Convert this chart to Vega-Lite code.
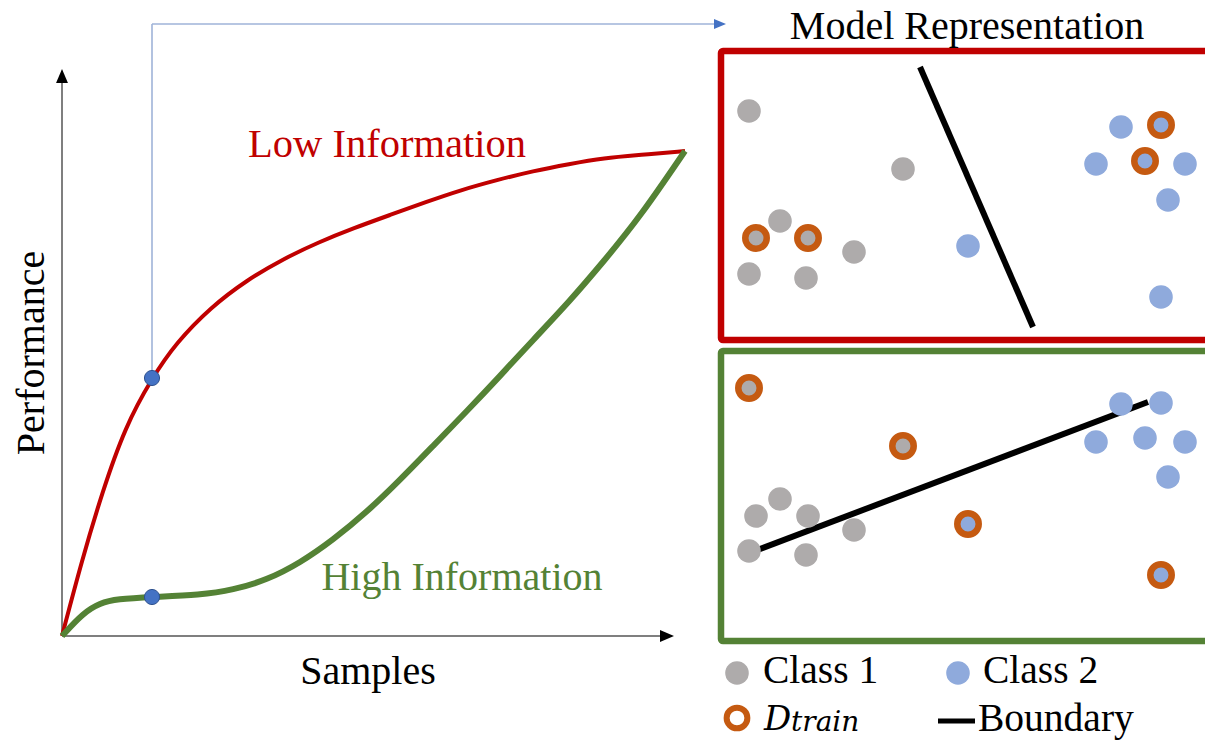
{
  "$schema": "https://vega.github.io/schema/vega-lite/v6.json",
  "width": 1205,
  "height": 748,
  "autosize": {"type": "fit", "contains": "padding"},
  "padding": 0,
  "background": "white",
  "config": {"view": {"stroke": null}},
  "datasets": {
    "curves": [
      {"series": "Low", "x": 62, "y": 636}, {"series": "Low", "x": 82, "y": 560}, {"series": "Low", "x": 102, "y": 493},
      {"series": "Low", "x": 125, "y": 427}, {"series": "Low", "x": 152, "y": 378}, {"series": "Low", "x": 176, "y": 343},
      {"series": "Low", "x": 211, "y": 307}, {"series": "Low", "x": 247, "y": 280}, {"series": "Low", "x": 283, "y": 259},
      {"series": "Low", "x": 319, "y": 242}, {"series": "Low", "x": 354, "y": 228}, {"series": "Low", "x": 390, "y": 215},
      {"series": "Low", "x": 426, "y": 202}, {"series": "Low", "x": 461, "y": 190}, {"series": "Low", "x": 497, "y": 180},
      {"series": "Low", "x": 533, "y": 171}, {"series": "Low", "x": 569, "y": 164}, {"series": "Low", "x": 604, "y": 158},
      {"series": "Low", "x": 640, "y": 155}, {"series": "Low", "x": 685, "y": 151},
      {"series": "High", "x": 62, "y": 636}, {"series": "High", "x": 83, "y": 613}, {"series": "High", "x": 100, "y": 603},
      {"series": "High", "x": 117, "y": 599}, {"series": "High", "x": 152, "y": 597}, {"series": "High", "x": 200, "y": 595},
      {"series": "High", "x": 233, "y": 590}, {"series": "High", "x": 267, "y": 580}, {"series": "High", "x": 300, "y": 563},
      {"series": "High", "x": 333, "y": 540}, {"series": "High", "x": 367, "y": 512}, {"series": "High", "x": 400, "y": 480},
      {"series": "High", "x": 433, "y": 446}, {"series": "High", "x": 467, "y": 411}, {"series": "High", "x": 500, "y": 376},
      {"series": "High", "x": 533, "y": 340}, {"series": "High", "x": 569, "y": 302}, {"series": "High", "x": 604, "y": 261},
      {"series": "High", "x": 640, "y": 217}, {"series": "High", "x": 685, "y": 151}
    ],
    "points": [
      {"panel": "Low", "cls": "Class 1", "train": false, "x": 749, "y": 111},
      {"panel": "Low", "cls": "Class 1", "train": false, "x": 903, "y": 169},
      {"panel": "Low", "cls": "Class 1", "train": false, "x": 780, "y": 221},
      {"panel": "Low", "cls": "Class 1", "train": true, "x": 756, "y": 238},
      {"panel": "Low", "cls": "Class 1", "train": true, "x": 808, "y": 238},
      {"panel": "Low", "cls": "Class 1", "train": false, "x": 854, "y": 252},
      {"panel": "Low", "cls": "Class 1", "train": false, "x": 749, "y": 274},
      {"panel": "Low", "cls": "Class 1", "train": false, "x": 806, "y": 278},
      {"panel": "Low", "cls": "Class 2", "train": false, "x": 1121, "y": 127},
      {"panel": "Low", "cls": "Class 2", "train": true, "x": 1161, "y": 125},
      {"panel": "Low", "cls": "Class 2", "train": false, "x": 1096, "y": 164},
      {"panel": "Low", "cls": "Class 2", "train": true, "x": 1145, "y": 161},
      {"panel": "Low", "cls": "Class 2", "train": false, "x": 1185, "y": 164},
      {"panel": "Low", "cls": "Class 2", "train": false, "x": 1168, "y": 200},
      {"panel": "Low", "cls": "Class 2", "train": false, "x": 968, "y": 246},
      {"panel": "Low", "cls": "Class 2", "train": false, "x": 1161, "y": 297},
      {"panel": "High", "cls": "Class 1", "train": true, "x": 749, "y": 388},
      {"panel": "High", "cls": "Class 1", "train": true, "x": 903, "y": 446},
      {"panel": "High", "cls": "Class 1", "train": false, "x": 780, "y": 499},
      {"panel": "High", "cls": "Class 1", "train": false, "x": 756, "y": 516},
      {"panel": "High", "cls": "Class 1", "train": false, "x": 808, "y": 516},
      {"panel": "High", "cls": "Class 1", "train": false, "x": 854, "y": 530},
      {"panel": "High", "cls": "Class 1", "train": false, "x": 749, "y": 551},
      {"panel": "High", "cls": "Class 1", "train": false, "x": 806, "y": 555},
      {"panel": "High", "cls": "Class 2", "train": false, "x": 1121, "y": 404},
      {"panel": "High", "cls": "Class 2", "train": false, "x": 1161, "y": 403},
      {"panel": "High", "cls": "Class 2", "train": false, "x": 1096, "y": 442},
      {"panel": "High", "cls": "Class 2", "train": false, "x": 1145, "y": 438},
      {"panel": "High", "cls": "Class 2", "train": false, "x": 1185, "y": 442},
      {"panel": "High", "cls": "Class 2", "train": false, "x": 1168, "y": 477},
      {"panel": "High", "cls": "Class 2", "train": true, "x": 968, "y": 524},
      {"panel": "High", "cls": "Class 2", "train": true, "x": 1161, "y": 575}
    ]
  },
  "encoding": {
    "x": {"field": "x", "type": "quantitative", "scale": {"domain": [0, 1205], "nice": false, "zero": false}, "axis": null},
    "y": {"field": "y", "type": "quantitative", "scale": {"domain": [0, 748], "nice": false, "zero": false, "reverse": true}, "axis": null}
  },
  "layer": [
    {
      "data": {"values": [
        {"box": "Low", "x": 721, "y": 51, "x2": 1215, "y2": 340},
        {"box": "High", "x": 721, "y": 351, "x2": 1215, "y2": 641}
      ]},
      "mark": {"type": "rect", "fill": "white", "strokeWidth": 6.5, "clip": true, "cornerRadius": 2},
      "encoding": {
        "x2": {"field": "x2"},
        "y2": {"field": "y2"},
        "stroke": {"field": "box", "type": "nominal", "scale": {"domain": ["Low", "High"], "range": ["#C00000", "#548235"]}, "legend": null}
      }
    },
    {
      "data": {"values": [
        {"x": 62, "y": 636, "x2": 62, "y2": 80},
        {"x": 62, "y": 636, "x2": 664, "y2": 636}
      ]},
      "mark": {"type": "rule", "stroke": "#555555", "strokeWidth": 1.5},
      "encoding": {"x2": {"field": "x2"}, "y2": {"field": "y2"}}
    },
    {
      "data": {"values": [
        {"x": 152, "y": 378, "x2": 152, "y2": 24},
        {"x": 152, "y": 24, "x2": 716, "y2": 24}
      ]},
      "mark": {"type": "rule", "stroke": "#9FB3D8", "strokeWidth": 1.6},
      "encoding": {"x2": {"field": "x2"}, "y2": {"field": "y2"}}
    },
    {
      "data": {"values": [
        {"dir": "up", "x": 62, "y": 76},
        {"dir": "right", "x": 667, "y": 636}
      ]},
      "mark": {"type": "point", "filled": true, "fill": "black", "opacity": 1, "size": 196},
      "encoding": {
        "shape": {"field": "dir", "type": "nominal", "scale": {"domain": ["up", "right"], "range": ["M0,-1L0.85,1L-0.85,1Z", "M1,0L-1,0.85L-1,-0.85Z"]}, "legend": null}
      }
    },
    {
      "data": {"values": [{"dir": "right", "x": 720, "y": 24}]},
      "mark": {"type": "point", "filled": true, "fill": "#4472C4", "opacity": 1, "size": 144, "shape": "M1,0L-1,0.85L-1,-0.85Z"},
      "encoding": {}
    },
    {
      "data": {"name": "curves"},
      "transform": [{"filter": "datum.series === 'Low'"}],
      "mark": {"type": "line", "interpolate": "basis", "stroke": "#C00000", "strokeWidth": 4},
      "encoding": {}
    },
    {
      "data": {"name": "curves"},
      "transform": [{"filter": "datum.series === 'High'"}],
      "mark": {"type": "line", "interpolate": "basis", "stroke": "#548235", "strokeWidth": 6},
      "encoding": {}
    },
    {
      "data": {"values": [{"x": 152, "y": 378}, {"x": 152, "y": 597}]},
      "mark": {"type": "point", "shape": "circle", "filled": true, "fill": "#4472C4", "stroke": "#2F528F", "strokeWidth": 1, "opacity": 1, "size": 230},
      "encoding": {}
    },
    {
      "data": {"values": [
        {"x": 920, "y": 67, "x2": 1033, "y2": 327},
        {"x": 752, "y": 552, "x2": 1148, "y2": 402}
      ]},
      "mark": {"type": "rule", "stroke": "black", "strokeWidth": 6},
      "encoding": {"x2": {"field": "x2"}, "y2": {"field": "y2"}}
    },
    {
      "data": {"name": "points"},
      "transform": [{"filter": "!datum.train"}],
      "mark": {"type": "point", "shape": "circle", "filled": true, "opacity": 1, "size": 556},
      "encoding": {
        "fill": {"field": "cls", "type": "nominal", "scale": {"domain": ["Class 1", "Class 2"], "range": ["#AEABAB", "#8FAADC"]}, "legend": null}
      }
    },
    {
      "data": {"name": "points"},
      "transform": [{"filter": "datum.train"}],
      "mark": {"type": "point", "shape": "circle", "filled": true, "opacity": 1, "stroke": "#C55A11", "strokeWidth": 6.5, "strokeOpacity": 1, "size": 460},
      "encoding": {
        "fill": {"field": "cls", "type": "nominal", "scale": {"domain": ["Class 1", "Class 2"], "range": ["#AEABAB", "#8FAADC"]}, "legend": null}
      }
    },
    {
      "data": {"values": [{"cls": "Class 1", "x": 737, "y": 673}, {"cls": "Class 2", "x": 958, "y": 673}]},
      "mark": {"type": "point", "shape": "circle", "filled": true, "opacity": 1, "size": 556},
      "encoding": {
        "fill": {"field": "cls", "type": "nominal", "scale": {"domain": ["Class 1", "Class 2"], "range": ["#AEABAB", "#8FAADC"]}, "legend": null}
      }
    },
    {
      "data": {"values": [{"x": 737, "y": 718}]},
      "mark": {"type": "point", "shape": "circle", "filled": true, "fill": "white", "opacity": 1, "stroke": "#C55A11", "strokeWidth": 6, "strokeOpacity": 1, "size": 430},
      "encoding": {}
    },
    {
      "data": {"values": [{"x": 938, "y": 721, "x2": 975, "y2": 721}]},
      "mark": {"type": "rule", "stroke": "black", "strokeWidth": 5},
      "encoding": {"x2": {"field": "x2"}, "y2": {"field": "y2"}}
    },
    {
      "data": {"values": [
        {"t": "Samples", "x": 368, "y": 684},
        {"t": "Model Representation", "x": 967, "y": 39}
      ]},
      "mark": {"type": "text", "font": "Liberation Serif", "fontSize": 40, "color": "black", "align": "center", "baseline": "alphabetic"},
      "encoding": {"text": {"field": "t"}}
    },
    {
      "data": {"values": [{"t": "Performance", "x": 44, "y": 353}]},
      "mark": {"type": "text", "font": "Liberation Serif", "fontSize": 40, "color": "black", "align": "center", "baseline": "alphabetic", "angle": 270},
      "encoding": {"text": {"field": "t"}}
    },
    {
      "data": {"values": [{"t": "Low Information", "x": 387, "y": 157}]},
      "mark": {"type": "text", "font": "Liberation Serif", "fontSize": 40.5, "color": "#C00000", "align": "center", "baseline": "alphabetic"},
      "encoding": {"text": {"field": "t"}}
    },
    {
      "data": {"values": [{"t": "High Information", "x": 462, "y": 590}]},
      "mark": {"type": "text", "font": "Liberation Serif", "fontSize": 40, "color": "#548235", "align": "center", "baseline": "alphabetic"},
      "encoding": {"text": {"field": "t"}}
    },
    {
      "data": {"values": [
        {"t": "Class 1", "x": 763, "y": 683},
        {"t": "Class 2", "x": 983, "y": 683},
        {"t": "Boundary", "x": 978, "y": 731}
      ]},
      "mark": {"type": "text", "font": "Liberation Serif", "fontSize": 39.5, "color": "black", "align": "left", "baseline": "alphabetic"},
      "encoding": {"text": {"field": "t"}}
    },
    {
      "data": {"values": [{"t": "D", "x": 764, "y": 730}]},
      "mark": {"type": "text", "font": "DejaVu Serif", "fontStyle": "italic", "fontSize": 34, "color": "black", "align": "left", "baseline": "alphabetic"},
      "encoding": {"text": {"field": "t"}}
    },
    {
      "data": {"values": [{"t": "train", "x": 791, "y": 731}]},
      "mark": {"type": "text", "font": "DejaVu Serif", "fontStyle": "italic", "fontSize": 28, "color": "black", "align": "left", "baseline": "alphabetic"},
      "encoding": {"text": {"field": "t"}}
    }
  ]
}
